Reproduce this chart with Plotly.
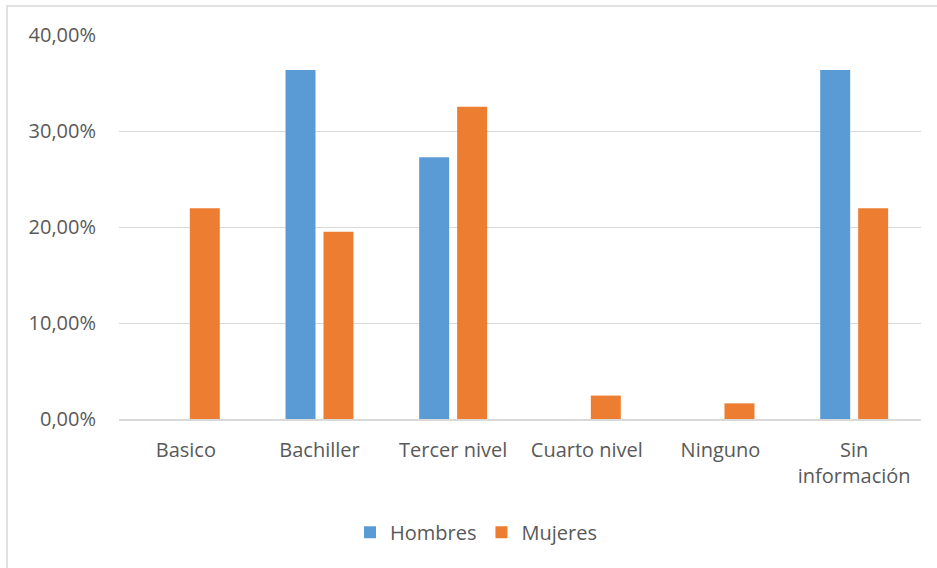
import plotly.graph_objects as go

categories = ["Basico", "Bachiller", "Tercer nivel", "Cuarto nivel", "Ninguno", "Sin<br>información"]
hombres = [0.0, 0.3636, 0.2727, 0.0, 0.0, 0.3636]
mujeres = [0.2195, 0.1951, 0.3252, 0.0244, 0.0163, 0.2195]
y_ticks = [0.0, 0.1, 0.2, 0.3, 0.4]

W, H = 937, 568
L, R, T, B = 119, 921, 35, 419

fig = go.Figure()
fig.add_trace(go.Bar(name="Hombres", x=categories, y=hombres, marker=dict(color="#5B9BD5", line=dict(width=0))))
fig.add_trace(go.Bar(name="Mujeres", x=categories, y=mujeres, marker=dict(color="#ED7D31", line=dict(width=0))))

txt = dict(family="Open Sans", size=20, color="#595959")
fig.update_layout(
    width=W, height=H,
    margin=dict(l=L, r=W - R, t=T, b=H - B, pad=0),
    paper_bgcolor="white", plot_bgcolor="white",
    separators=",.",
    barmode="group", bargap=0.432, bargroupgap=0.21,
    font=txt,
    showlegend=True,
    legend=dict(orientation="h", xref="container", yref="container",
                x=0.508, xanchor="center", y=0.063, yanchor="middle",
                font=dict(family="Open Sans", size=20, color="#595959"),
                itemwidth=30, traceorder="normal"),
    xaxis=dict(showgrid=False, showline=True, linecolor="#D9D9D9", linewidth=2,
               ticks="", tickfont=txt, ticklabelstandoff=12),
    yaxis=dict(range=[0, 0.4], tickvals=y_ticks, tickformat=".2%",
               showgrid=True, gridcolor="#D9D9D9", gridwidth=1, zeroline=False,
               showline=False, ticks="", ticklabelstandoff=22, tickfont=txt),
)

# outer chart border (partially cropped in the reference)
pw, ph = R - L, B - T
fig.add_shape(type="rect", xref="paper", yref="paper",
              x0=(7 - L) / pw, x1=(945 - L) / pw,
              y0=(B - 575) / ph, y1=(B - 6) / ph,
              line=dict(color="#D9D9D9", width=1.5), fillcolor="rgba(0,0,0,0)", layer="below")

fig.write_html("out.html")
